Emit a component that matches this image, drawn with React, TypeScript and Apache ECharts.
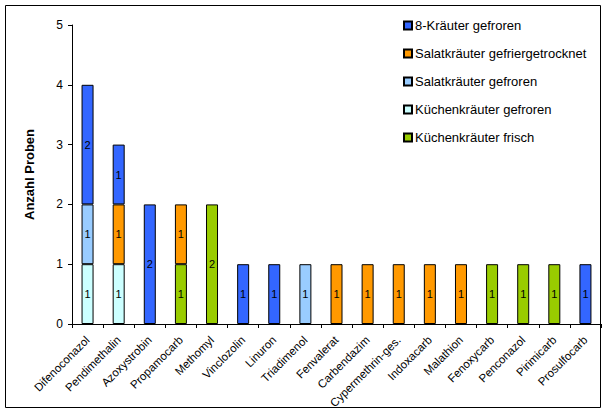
import React, { useEffect, useRef } from "react";
import * as echarts from "echarts";

const categories = [
  "Difenoconazol", "Pendimethalin", "Azoxystrobin", "Propamocarb", "Methomyl",
  "Vinclozolin", "Linuron", "Triadimenol", "Fenvalerat", "Carbendazim",
  "Cypermethrin-ges.", "Indoxacarb", "Malathion", "Fenoxycarb", "Penconazol",
  "Pirimicarb", "Prosulfocarb",
];

// stacked bottom to top
const kuechenFrisch = [0, 0, 0, 1, 2, 0, 0, 0, 0, 0, 0, 0, 0, 1, 1, 1, 0];
const kuechenGefroren = [1, 1, 0, 0, 0, 0, 0, 0, 0, 0, 0, 0, 0, 0, 0, 0, 0];
const salatGefroren = [1, 0, 0, 0, 0, 0, 0, 1, 0, 0, 0, 0, 0, 0, 0, 0, 0];
const salatGefriergetrocknet = [0, 1, 0, 1, 0, 0, 0, 0, 1, 1, 1, 1, 1, 0, 0, 0, 0];
const achtKraeuter = [2, 1, 2, 0, 0, 1, 1, 0, 0, 0, 0, 0, 0, 0, 0, 0, 1];

const yTicks = [0, 1, 2, 3, 4, 5];

const FONT = "Arial, 'Liberation Sans', sans-serif";

export default function App() {
  const ref = useRef<HTMLDivElement>(null);
  useEffect(() => {
    if (!ref.current) return;
    const chart = echarts.init(ref.current, undefined, { renderer: "svg" });
    const mk = (name: string, data: number[], color: string) => ({
      name,
      type: "bar",
      stack: "total",
      barWidth: 12,
      data: data.map((v) => (v ? v : null)),
      itemStyle: { color, borderColor: "#000", borderWidth: 1 },
      label: {
        show: true,
        position: "inside",
        color: "#000",
        fontSize: 11,
        fontFamily: FONT,
      },
    });
    chart.setOption({
      animation: false,
      backgroundColor: "#fff",
      textStyle: { fontFamily: FONT },
      graphic: [
        {
          type: "rect",
          shape: { x: 5.5, y: 5.5, width: 595, height: 402 },
          style: { fill: "none", stroke: "#000", lineWidth: 1 },
          z: -1,
        },
      ],
      grid: { left: 72, right: 5, top: 25, bottom: 90 },
      legend: {
        orient: "vertical",
        left: 398,
        top: 14,
        itemWidth: 8,
        itemHeight: 8,
        itemGap: 15,
        icon: "rect",
        textStyle: { fontSize: 13, color: "#000", fontFamily: FONT, padding: [0, 0, 0, -2] },
        data: [
          "8-Kräuter gefroren",
          "Salatkräuter gefriergetrocknet",
          "Salatkräuter gefroren",
          "Küchenkräuter gefroren",
          "Küchenkräuter frisch",
        ],
      },
      xAxis: {
        type: "category",
        data: categories,
        axisLine: { lineStyle: { color: "#000", width: 1 } },
        axisTick: { show: true, length: 4, lineStyle: { color: "#000" } },
        axisLabel: {
          interval: 0,
          rotate: 45,
          fontSize: 11.5,
          color: "#000",
          fontFamily: FONT,
          margin: 14,
        },
      },
      yAxis: {
        type: "value",
        min: yTicks[0],
        max: yTicks[yTicks.length - 1],
        interval: 1,
        name: "Anzahl Proben",
        nameLocation: "middle",
        nameGap: 36,
        nameTextStyle: { fontSize: 13, fontWeight: "bold", color: "#000", fontFamily: FONT },
        axisLine: { show: true, lineStyle: { color: "#000", width: 1 } },
        axisTick: { show: true, length: 4, lineStyle: { color: "#000" } },
        axisLabel: { fontSize: 12, color: "#000", fontFamily: FONT, margin: 9 },
        splitLine: { show: false },
      },
      series: [
        mk("Küchenkräuter frisch", kuechenFrisch, "#99CC00"),
        mk("Küchenkräuter gefroren", kuechenGefroren, "#CCFFFF"),
        mk("Salatkräuter gefroren", salatGefroren, "#99CCFF"),
        mk("Salatkräuter gefriergetrocknet", salatGefriergetrocknet, "#FF9900"),
        mk("8-Kräuter gefroren", achtKraeuter, "#3366FF"),
      ],
    });
    return () => chart.dispose();
  }, []);
  return (
    <div
      ref={ref}
      style={{ position: "fixed", left: 0, top: 0, width: 606, height: 414 }}
    />
  );
}
